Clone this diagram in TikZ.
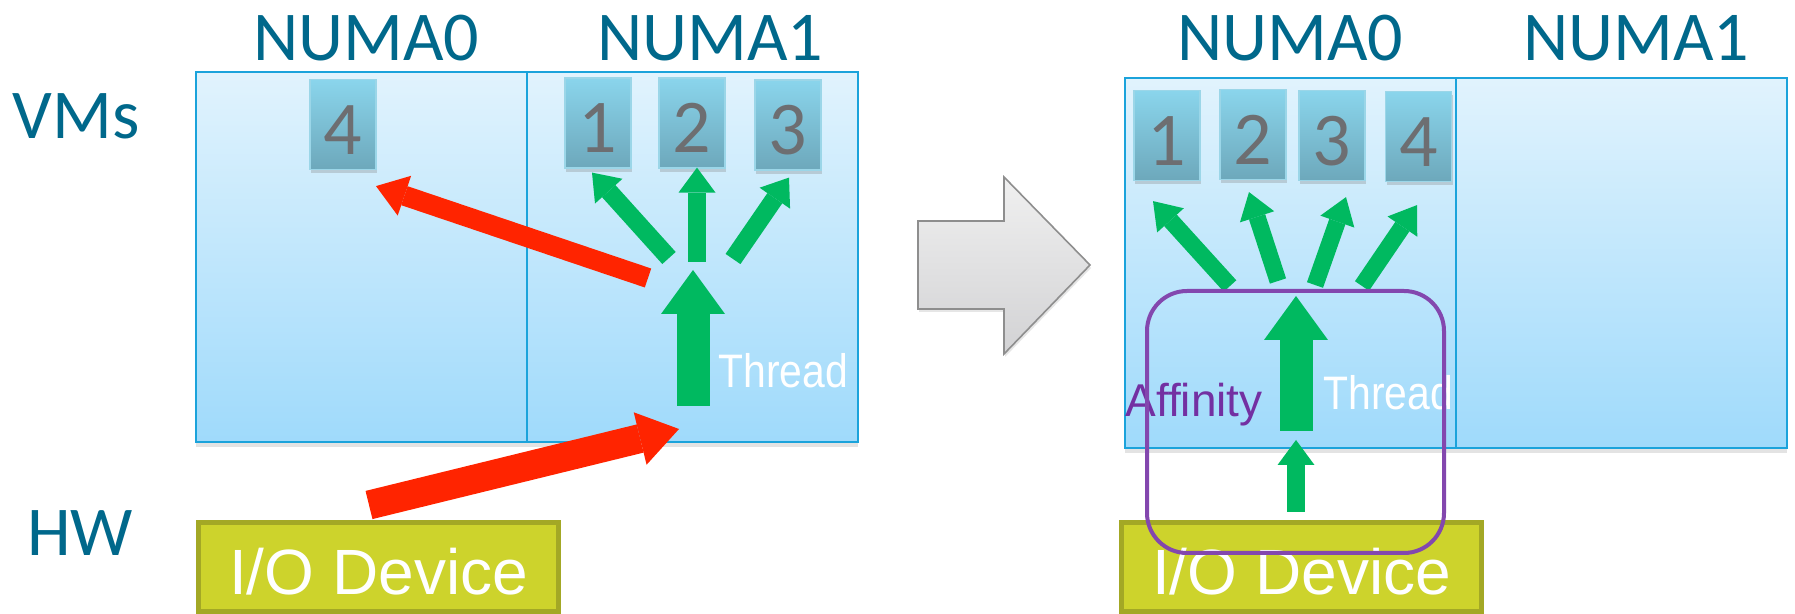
\documentclass[tikz,border=0pt]{standalone}
\usepackage{fontspec}
\newfontfamily\calib{Carlito}
\newfontfamily\arialf{Liberation Sans}
\usetikzlibrary{arrows.meta,shadows}

\definecolor{numatext}{RGB}{0,104,139}
\definecolor{numatop}{HTML}{E1F3FD}
\definecolor{numabot}{HTML}{9FDAFB}
\definecolor{numaedge}{HTML}{1BA3DB}
\definecolor{vmtop}{HTML}{8AD5EC}
\definecolor{vmbot}{HTML}{6DA8BB}
\definecolor{vmedge}{HTML}{9BD6E8}
\definecolor{vmnum}{HTML}{6D6E71}
\definecolor{iofill}{HTML}{CDD32C}
\definecolor{ioedge}{HTML}{A3A825}
\definecolor{flowgreen}{HTML}{00B960}
\definecolor{flowred}{HTML}{FF2400}
\definecolor{affline}{HTML}{8347AE}
\definecolor{afftext}{HTML}{7330A2}
\definecolor{steptop}{HTML}{F0F0F0}
\definecolor{stepbot}{HTML}{D2D2D4}
\definecolor{stepedge}{HTML}{8E8E8E}

\tikzset{
  hdr/.style={font=\calib\fontsize{35}{40}\selectfont, text=numatext, inner sep=0pt, anchor=base},
  numabox/.style={draw=numaedge, line width=1pt, top color=numatop, bottom color=numabot,
    minimum width=165.5pt, minimum height=185pt, inner sep=0pt,
    drop shadow={shadow xshift=0pt, shadow yshift=-2.5pt, opacity=0.22}},
  vmtile/.style={draw=vmedge, line width=0.6pt, top color=vmtop, bottom color=vmbot,
    minimum width=33pt, minimum height=45pt, inner sep=0pt,
    text height=30pt, text depth=0pt, text=vmnum,
    font=\calib\fontsize{38}{40}\selectfont,
    drop shadow={shadow xshift=0.6pt, shadow yshift=-2pt, opacity=0.3}},
  iobox/.style={draw=ioedge, line width=2.5pt, fill=iofill,
    minimum width=180pt, minimum height=44.5pt, inner sep=0pt,
    text height=28pt, text depth=0pt, text=white,
    font=\arialf\fontsize{32}{36}\selectfont},
  thrlabel/.style={font=\arialf\fontsize{23.5}{26}\selectfont, text=white,
    inner sep=0pt, anchor=base west, xscale=0.87},
  afflabel/.style={font=\arialf\fontsize{23}{26}\selectfont, text=afftext,
    inner sep=0pt, anchor=base west},
  affbox/.style={draw=affline, line width=2pt, rounded corners=20pt,
    minimum width=148.5pt, minimum height=131pt, inner sep=0pt},
  gbig/.style={draw=flowgreen, line width=16.5pt,
    -{Triangle[length=22pt, width=32pt, line width=0pt]}},
  gsmall/.style={draw=flowgreen, line width=9pt,
    -{Triangle[length=12.5pt, width=18.5pt, line width=0pt]}},
  gfan/.style={draw=flowgreen, line width=8.5pt,
    -{Triangle[length=13pt, width=18pt, line width=0pt]}},
  rthin/.style={draw=flowred, line width=10pt,
    -{Triangle[length=15pt, width=21pt, line width=0pt]}},
  rthick/.style={draw=flowred, line width=14.5pt,
    -{Triangle[length=20pt, width=27pt, line width=0pt]}},
  stepshape/.style={top color=steptop, bottom color=stepbot, draw=stepedge, line width=0.8pt,
    drop shadow={shadow xshift=0.5pt, shadow yshift=-1.5pt, opacity=0.2}}
}

\begin{document}
\begin{tikzpicture}[x=0.5pt, y=-0.5pt]
\useasboundingbox (0,0) rectangle (1795,614);

% ---------- row labels ----------
\node[hdr] (vms) at (76,139) {VMs};
\node[hdr] (hw) at (80,556) {HW};

% ---------- before: NUMA nodes ----------
\node[hdr] (hdrL0) at (366,61) {NUMA0};
\node[hdr] (hdrL1) at (710,61) {NUMA1};
\node[numabox] (nL0) at (361.5,257.5) {};
\node[numabox] (nL1) at (692.5,257.5) {};

\node[vmtile] (vL4) at (343,124.5) {4};
\node[vmtile] (vL1) at (598,123) {1};
\node[vmtile] (vL2) at (692,123) {2};
\node[vmtile] (vL3) at (788,125) {3};

\node[iobox] (ioL) at (378.5,567) {I/O Device};

% ---------- after: NUMA nodes ----------
\node[hdr] (hdrR0) at (1290,61) {NUMA0};
\node[hdr] (hdrR1) at (1636,61) {NUMA1};
\node[numabox] (nR0) at (1290.5,263) {};
\node[numabox] (nR1) at (1621,263) {};

\node[vmtile] (vR1) at (1167,135.5) {1};
\node[vmtile] (vR2) at (1253,134.5) {2};
\node[vmtile] (vR3) at (1332,135.5) {3};
\node[vmtile] (vR4) at (1418.5,136.5) {4};

\node[iobox] (ioR) at (1301.5,567) {I/O Device};

% ---------- transition arrow ----------
\path[stepshape] (918,221) -- (1004,221) -- (1004,177) -- (1090,265)
  -- (1004,354) -- (1004,309) -- (918,309) -- cycle;

% ---------- before: data paths ----------
\coordinate (thrL) at (693,406);
\coordinate (hubL) at (693,270);
\coordinate (inL) at (679,429);
\coordinate (fL1) at (669,258);
\coordinate (fL2) at (697,262);
\coordinate (fL3) at (733,259);
\coordinate (fL4) at (648,278);

\draw[rthick] ([shift={(-9.5,-15)}]ioL.north) -- (inL);
\draw[gbig] (thrL) -- (hubL);
\draw[gsmall] (fL1) -- ([shift={(-6,4)}]vL1.south);
\draw[gsmall] (fL2) -- ([shift={(5,-1)}]vL2.south);
\draw[gsmall] (fL3) -- ([shift={(1,7)}]vL3.south);
\draw[rthin] (fL4) -- ([shift={(33,16)}]vL4.south);

\node[thrlabel] (thrtxtL) at (718,388) {Thread};

% ---------- after: data paths ----------
\coordinate (thrR) at (1296,431);
\coordinate (hubR) at (1296,296);
\coordinate (inR) at (1296,440);
\coordinate (fR1) at (1230,286);
\coordinate (fR2) at (1278,281);
\coordinate (fR3) at (1315,285);
\coordinate (fR4) at (1362,286);

\draw[gsmall] ([shift={(-5.5,-8)}]ioR.north) -- (inR);
\draw[gbig] (thrR) -- (hubR);
\draw[gfan] (fR1) -- ([shift={(-14,20)}]vR1.south);
\draw[gfan] (fR2) -- ([shift={(-4,12)}]vR2.south);
\draw[gfan] (fR3) -- ([shift={(14,16)}]vR3.south);
\draw[gfan] (fR4) -- ([shift={(-1.5,23)}]vR4.south);

\node[thrlabel] (thrtxtR) at (1323,410) {Thread};
\node[afflabel] (afftxt) at (1125,417) {Affinity};

\node[affbox] (aff) at (1295.5,422) {};
\end{tikzpicture}
\end{document}
